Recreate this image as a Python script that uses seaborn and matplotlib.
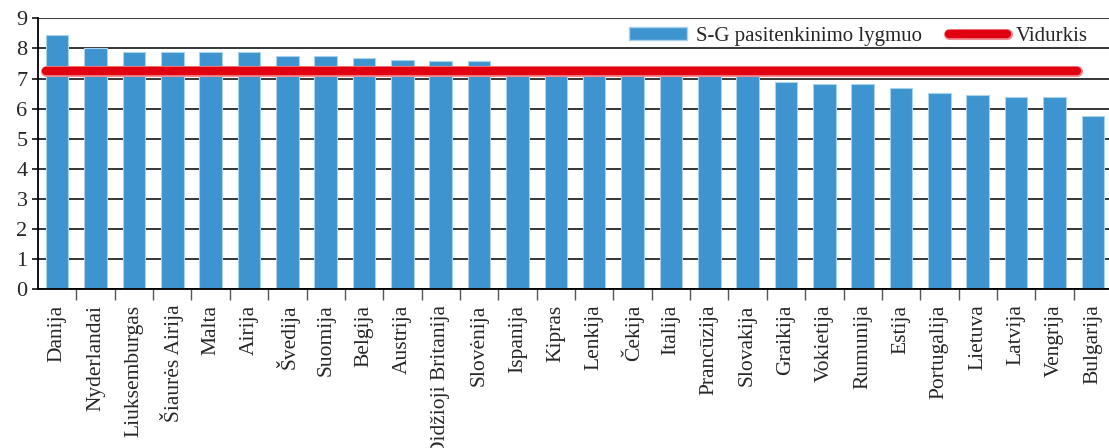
import numpy as np
import pandas as pd
import matplotlib
matplotlib.use("Agg")
import matplotlib.pyplot as plt
import seaborn as sns
from matplotlib.lines import Line2D
from matplotlib.patches import Patch
import matplotlib.patheffects as pe

# data
countries = ["Danija", "Nyderlandai", "Liuksemburgas", "Šiaurės Airija", "Malta",
             "Airija", "Švedija", "Suomija", "Belgija", "Austrija",
             "Didžioji Britanija", "Slovėnija", "Ispanija", "Kipras", "Lenkija",
             "Čekija", "Italija", "Prancūzija", "Slovakija", "Graikija",
             "Vokietija", "Rumunija", "Estija", "Portugalija", "Lietuva",
             "Latvija", "Vengrija", "Bulgarija"]
satisfaction = [8.43, 8.03, 7.89, 7.89, 7.89, 7.89, 7.74, 7.74, 7.67, 7.60,
                7.59, 7.59, 7.35, 7.30, 7.30, 7.30, 7.28, 7.25, 7.22, 6.90,
                6.83, 6.83, 6.68, 6.53, 6.44, 6.38, 6.38, 5.77]
average = 7.25

bar_label = "S-G pasitenkinimo lygmuo"
line_label = "Vidurkis"

df = pd.DataFrame({"country": countries, "value": satisfaction})

sns.set_style("white")
plt.rcParams["font.family"] = ["Liberation Serif", "DejaVu Serif"]

blue = "#3d94cf"
red = "#e0000f"
halo = [pe.Stroke(linewidth=8, foreground="#ef8a90"), pe.Normal()]

fig = plt.figure(figsize=(11.09, 4.48), dpi=100)
ax = fig.add_axes([38 / 1109, 158.7 / 448, 1074 / 1109, 271 / 448])

# gridlines behind bars
ax.set_axisbelow(True)
ax.yaxis.grid(True, color="black", linewidth=1.1)

sns.barplot(data=df, x="country", y="value", color=blue, saturation=1,
            width=0.59, edgecolor="#a9d2ee", linewidth=0.8, ax=ax)

# average line (Excel draws it a bit shy of the last bar)
n = len(countries)
ax.plot([-0.3, n - 1.4], [average, average], color=red, linewidth=6,
        solid_capstyle="round", zorder=5, path_effects=halo)

ax.set_ylim(0, 9)
ax.set_xlim(-0.5, n - 0.5)
ax.set_yticks(range(0, 10))
ax.set_xlabel("")
ax.set_ylabel("")

for s in ["top", "right"]:
    ax.spines[s].set_visible(False)
ax.spines["left"].set_color("black")
ax.spines["left"].set_linewidth(1.3)
ax.spines["bottom"].set_color("black")
ax.spines["bottom"].set_linewidth(1.3)

ax.tick_params(axis="y", direction="out", length=4.5, width=1.1, color="black",
               labelsize=16, pad=3, left=True)
ax.tick_params(axis="x", which="major", length=0, labelsize=15.5, pad=11,
               labelrotation=90)
ax.set_xticks(np.arange(n - 1) + 0.5, minor=True)
ax.tick_params(axis="x", which="minor", direction="out", length=8, width=1,
               color="#555555", bottom=True)

handles = [Patch(facecolor=blue, edgecolor="#a9d2ee", label=bar_label),
           Line2D([0], [0], color=red, linewidth=6, solid_capstyle="round",
                  path_effects=halo, label=line_label)]
ax.legend(handles=handles, ncol=2, frameon=False, fontsize=15,
          loc="center right", bbox_to_anchor=(1 - 12 / 1074, 8.4 / 9),
          bbox_transform=ax.transAxes, handlelength=2.8, handleheight=0.6,
          handletextpad=0.4, columnspacing=1.3, borderaxespad=0.2)

fig.savefig("out.png", dpi=100)
